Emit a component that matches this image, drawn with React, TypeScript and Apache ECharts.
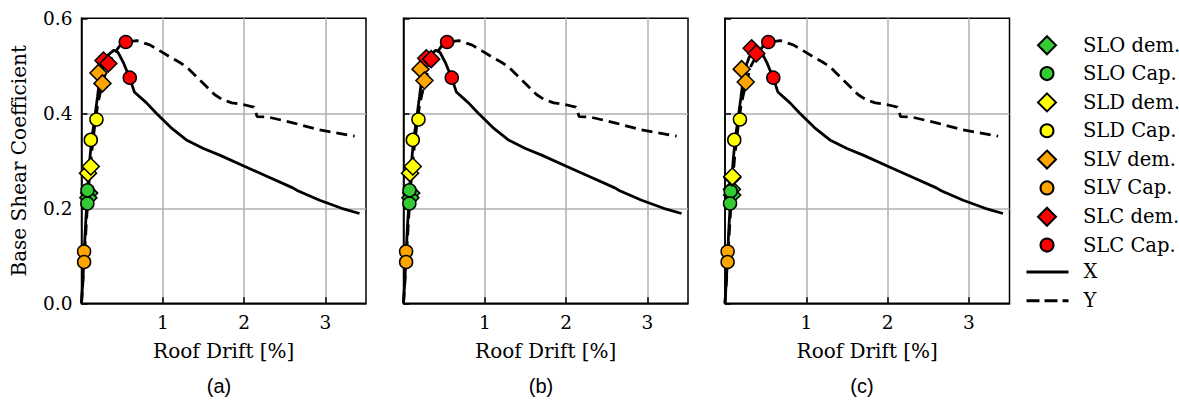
import React, { useEffect, useRef } from "react";
import * as echarts from "echarts";

// ---- data ----
const curveX: number[][] = [
  [0, 0], [0.028, 0.085], [0.045, 0.15], [0.074, 0.238], [0.1, 0.3], [0.125, 0.345],
  [0.16, 0.387], [0.197, 0.435], [0.237, 0.49], [0.3, 0.519], [0.4, 0.533], [0.45, 0.528],
  [0.52, 0.505], [0.594, 0.474], [0.65, 0.445], [0.8, 0.422], [0.92, 0.4], [1.1, 0.37],
  [1.29, 0.344], [1.5, 0.326], [1.7, 0.312], [2.01, 0.288], [2.3, 0.266], [2.6, 0.243],
  [2.66, 0.237], [2.93, 0.217], [3.2, 0.2], [3.42, 0.189],
];
const curveY: number[][] = [
  [0, 0], [0.03, 0.08], [0.06, 0.17], [0.09, 0.25], [0.12, 0.31], [0.16, 0.37],
  [0.2, 0.42], [0.258, 0.463], [0.32, 0.5], [0.4, 0.525], [0.47, 0.542], [0.545, 0.55],
  [0.68, 0.553], [0.84, 0.544], [0.96, 0.532], [1.086, 0.519], [1.2, 0.508], [1.29, 0.498],
  [1.42, 0.476], [1.54, 0.456], [1.64, 0.439], [1.74, 0.428], [1.85, 0.422], [2.0, 0.418],
  [2.12, 0.413], [2.14, 0.405], [2.16, 0.393], [2.3, 0.392], [2.6, 0.38], [2.93, 0.365],
  [3.36, 0.352],
];

// markers per panel (a, b, c): two points each (X and Y direction)
const SLO_DEM = [
  [[0.095, 0.232], [0.085, 0.222]],
  [[0.095, 0.232], [0.085, 0.222]],
  [[0.085, 0.24], [0.088, 0.228]],
];
const SLO_CAP = [
  [[0.074, 0.238], [0.072, 0.21]],
  [[0.074, 0.238], [0.072, 0.21]],
  [[0.07, 0.236], [0.062, 0.21]],
];
const SLD_DEM = [
  [[0.08, 0.274], [0.114, 0.288]],
  [[0.08, 0.274], [0.114, 0.288]],
  [[0.09, 0.265], [0.09, 0.267]],
];
const SLD_CAP = [
  [[0.184, 0.387], [0.114, 0.344]],
  [[0.184, 0.387], [0.114, 0.344]],
  [[0.184, 0.387], [0.114, 0.344]],
];
const SLV_DEM = [
  [[0.209, 0.485], [0.258, 0.463]],
  [[0.209, 0.493], [0.258, 0.469]],
  [[0.205, 0.493], [0.255, 0.466]],
];
const SLV_CAP = [
  [[0.032, 0.109], [0.032, 0.087]],
  [[0.032, 0.109], [0.032, 0.087]],
  [[0.032, 0.109], [0.032, 0.087]],
];
const SLC_DEM = [
  [[0.27, 0.511], [0.33, 0.505]],
  [[0.28, 0.516], [0.34, 0.514]],
  [[0.328, 0.537], [0.385, 0.526]],
];
const SLC_CAP = [
  [[0.545, 0.55], [0.594, 0.475]],
  [[0.536, 0.55], [0.594, 0.475]],
  [[0.533, 0.55], [0.594, 0.475]],
];

const MARKER_SETS = [
  { name: "SLO dem.", symbol: "diamond", color: "#33cc33", data: SLO_DEM },
  { name: "SLO Cap.", symbol: "circle", color: "#33cc33", data: SLO_CAP },
  { name: "SLD dem.", symbol: "diamond", color: "#ffff00", data: SLD_DEM },
  { name: "SLD Cap.", symbol: "circle", color: "#ffff00", data: SLD_CAP },
  { name: "SLV dem.", symbol: "diamond", color: "#ffa500", data: SLV_DEM },
  { name: "SLV Cap.", symbol: "circle", color: "#ffa500", data: SLV_CAP },
  { name: "SLC dem.", symbol: "diamond", color: "#ff0000", data: SLC_DEM },
  { name: "SLC Cap.", symbol: "circle", color: "#ff0000", data: SLC_CAP },
];

const PANEL_LABELS = ["(a)", "(b)", "(c)"];
const DEM_NAMES = ["SLO dem.", "SLD dem.", "SLV dem.", "SLC dem."];
const CAP_NAMES = ["SLO Cap.", "SLD Cap.", "SLV Cap.", "SLC Cap."];

// ---- layout ----
const GRID_LEFTS = [81.5, 403.5, 725];
const GRID_W = 284.5;
const GRID_TOP = 18.3;
const GRID_H = 285;
const LABEL_X = [219, 541, 862];
const SERIF = "DejaVu Serif";
const LEGEND_FONT = 19.5;
const ROW = 28.33;
const TEXT_H = 19.5;
const LW = 2.8;

export default function App() {
  const ref = useRef<HTMLDivElement>(null);
  useEffect(() => {
    if (!ref.current) return;
    const chart = echarts.init(ref.current, null, { renderer: "svg" });

    const grid = GRID_LEFTS.map((l) => ({
      left: l,
      top: GRID_TOP,
      width: GRID_W,
      height: GRID_H,
      show: true,
      borderColor: "#000",
      borderWidth: 1.5,
      backgroundColor: "transparent",
    }));

    const xAxis = GRID_LEFTS.map((_, i) => ({
      type: "value",
      gridIndex: i,
      min: 0,
      max: 3.5,
      interval: 1,
      axisLine: { show: true, lineStyle: { color: "#000", width: 1.5 } },
      axisTick: { show: true, inside: true, length: 6, lineStyle: { color: "#000", width: 1.5 } },
      axisLabel: {
        formatter: (v: number) => (v === 0 || v > 3.2 ? "" : String(v)),
        fontFamily: SERIF,
        fontSize: 18.5,
        color: "#000",
        margin: 10,
        showMaxLabel: false,
      },
      splitLine: {
        show: true,
        showMinLine: false,
        showMaxLine: false,
        lineStyle: { color: "#b0b0b0", width: 1.5 },
      },
      name: "Roof Drift [%]",
      nameLocation: "middle",
      nameGap: 38,
      nameTextStyle: { fontFamily: SERIF, fontSize: 20, color: "#000" },
    }));

    const yAxis = GRID_LEFTS.map((_, i) => ({
      type: "value",
      gridIndex: i,
      min: 0,
      max: 0.6,
      interval: 0.2,
      axisLine: { show: true, lineStyle: { color: "#000", width: 1.5 } },
      axisTick: { show: true, inside: true, length: 6, lineStyle: { color: "#000", width: 1.5 } },
      axisLabel: {
        show: i === 0,
        formatter: (v: number) => v.toFixed(1),
        fontFamily: SERIF,
        fontSize: 18.5,
        color: "#000",
        margin: 9,
      },
      splitLine: {
        show: true,
        showMinLine: false,
        showMaxLine: false,
        lineStyle: { color: "#b0b0b0", width: 1.5 },
      },
      name: i === 0 ? "Base Shear Coefficient" : "",
      nameLocation: "middle",
      nameGap: 53,
      nameTextStyle: { fontFamily: SERIF, fontSize: 20, color: "#000" },
    }));

    const series: any[] = [];
    GRID_LEFTS.forEach((_, p) => {
      series.push({
        type: "line",
        name: "X",
        xAxisIndex: p,
        yAxisIndex: p,
        data: curveX,
        symbol: "none",
        lineStyle: { color: "#000", width: LW },
        itemStyle: { color: "#000" },
        z: 2,
      });
      series.push({
        type: "line",
        name: "Y",
        xAxisIndex: p,
        yAxisIndex: p,
        data: curveY,
        symbol: "none",
        lineStyle: { color: "#000", width: LW, type: [11, 6] },
        itemStyle: { color: "#000" },
        z: 2,
      });
    });
    GRID_LEFTS.forEach((_, p) => {
      MARKER_SETS.forEach((m) => {
        series.push({
          type: "scatter",
          name: m.name,
          xAxisIndex: p,
          yAxisIndex: p,
          data: m.data[p],
          symbol: m.symbol,
          symbolSize: m.symbol === "diamond" ? 17 : 13,
          itemStyle: { color: m.color, borderColor: "#000", borderWidth: 1.5, opacity: 1 },
          z: 3,
        });
      });
    });

    const legendText = (pad: number) => ({
      fontFamily: SERIF,
      fontSize: LEGEND_FONT,
      color: "#000",
      padding: [0, 0, 0, pad],
    });
    const firstCenter = 45;

    chart.setOption({
      animation: false,
      backgroundColor: "#fff",
      grid,
      xAxis,
      yAxis,
      series,
      legend: [
        {
          data: DEM_NAMES.map((n) => ({ name: n, icon: "diamond" })),
          orient: "vertical",
          left: 1037,
          top: firstCenter - TEXT_H / 2,
          itemWidth: 18,
          itemHeight: 18,
          itemGap: 2 * ROW - TEXT_H,
          padding: 0,
          selectedMode: false,
          textStyle: legendText(22),
        },
        {
          data: CAP_NAMES.map((n) => ({ name: n, icon: "circle" })),
          orient: "vertical",
          left: 1039.5,
          top: firstCenter + ROW - TEXT_H / 2,
          itemWidth: 13,
          itemHeight: 13,
          itemGap: 2 * ROW - TEXT_H,
          padding: 0,
          selectedMode: false,
          textStyle: legendText(24.5),
        },
        {
          data: [
            { name: "X", itemStyle: { opacity: 0 }, lineStyle: { width: 3, type: "solid" } },
            { name: "Y", itemStyle: { opacity: 0 }, lineStyle: { width: 3, type: [13, 5] } },
          ],
          orient: "vertical",
          left: 1025,
          top: firstCenter + 8 * ROW - TEXT_H / 2,
          itemWidth: 42,
          itemHeight: 15,
          itemGap: ROW - TEXT_H,
          padding: 0,
          selectedMode: false,
          textStyle: legendText(10),
        },
      ],
      graphic: PANEL_LABELS.map((t, i) => ({
        type: "text",
        x: LABEL_X[i],
        y: 386,
        style: {
          text: t,
          textAlign: "center",
          textVerticalAlign: "middle",
          font: '20px "Liberation Sans"',
          fill: "#000",
        },
      })),
    });

    return () => chart.dispose();
  }, []);

  return (
    <div
      ref={ref}
      style={{ position: "fixed", left: 0, top: 0, width: 1179, height: 400 }}
    />
  );
}
